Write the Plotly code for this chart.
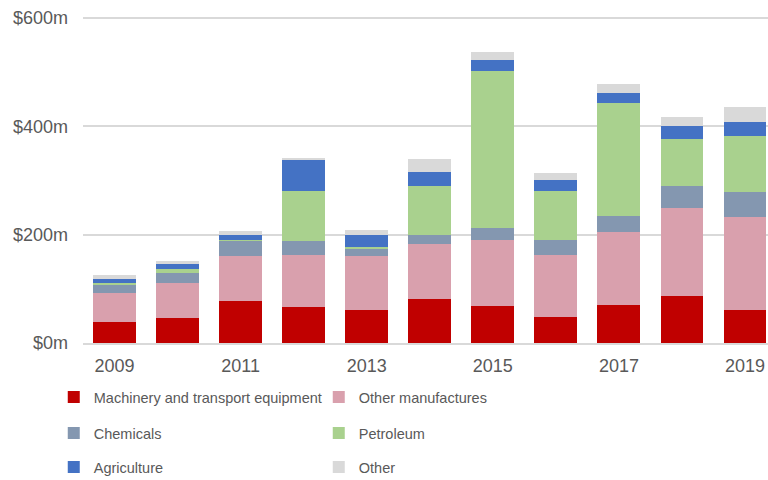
import plotly.graph_objects as go

years = ["2009", "2010", "2011", "2012", "2013", "2014", "2015", "2016", "2017", "2018", "2019"]
machinery = [38.2, 46.2, 78.3, 66.5, 60.9, 81.2, 69.0, 48.7, 69.6, 86.8, 60.9]
other_manufactures = [54.8, 64.0, 81.8, 96.7, 99.1, 102.3, 120.6, 113.7, 136.0, 163.2, 171.1]
chemicals = [14.8, 19.7, 29.0, 25.1, 12.9, 15.9, 22.2, 28.4, 28.8, 39.9, 46.2]
petroleum = [3.0, 6.1, 0.6, 93.0, 3.7, 91.2, 289.8, 90.5, 209.3, 87.5, 104.7]
agriculture = [8.1, 9.2, 10.3, 57.8, 23.4, 25.1, 20.3, 20.3, 17.7, 23.3, 25.8]
other = [6.1, 5.5, 6.8, 3.1, 9.2, 24.0, 14.8, 11.6, 17.4, 17.4, 26.4]

series = [
    ("Machinery and transport equipment", machinery, "#C00000", "legend"),
    ("Other manufactures", other_manufactures, "#D9A0AD", "legend"),
    ("Chemicals", chemicals, "#8497B0", "legend2"),
    ("Petroleum", petroleum, "#A9D18E", "legend2"),
    ("Agriculture", agriculture, "#4472C4", "legend3"),
    ("Other", other, "#D9D9D9", "legend3"),
]

y_ticks = [0, 200, 400, 600]
y_ticktext = ["$0m", "$200m", "$400m", "$600m"]
x_ticks = ["2009", "2011", "2013", "2015", "2017", "2019"]

fig = go.Figure()
for name, vals, color, lg in series:
    fig.add_trace(go.Bar(x=years, y=vals, name=name, marker_color=color,
                         marker_line_width=0, legend=lg))

legend_font = dict(family="Liberation Sans, Arial", size=14.5, color="#595959")
common_legend = dict(orientation="h", xref="container", yref="container", x=0.07,
                     xanchor="left", yanchor="middle", font=legend_font,
                     entrywidth=220, itemwidth=30, bgcolor="rgba(0,0,0,0)",
                     traceorder="normal", itemclick=False)

fig.update_layout(
    width=768, height=480,
    margin=dict(l=83, r=0, t=17, b=137, autoexpand=False),
    paper_bgcolor="white", plot_bgcolor="white",
    barmode="stack", bargap=0.32,
    font=dict(family="Liberation Sans, Arial", color="#595959", size=18),
    legend=dict(common_legend, y=1 - 397 / 480),
    legend2=dict(common_legend, y=1 - 433 / 480),
    legend3=dict(common_legend, y=1 - 467 / 480),
    xaxis=dict(type="category", range=[-0.5, 10.365], tickmode="array",
               tickvals=x_ticks, ticktext=x_ticks, showgrid=False,
               showline=True, linecolor="#D9D9D9", linewidth=1.5,
               ticks="", ticklabelstandoff=6, automargin=False,
               tickfont=dict(size=18, color="#595959")),
    yaxis=dict(range=[0, 602], tickvals=y_ticks, ticktext=y_ticktext,
               showgrid=True, gridcolor="#D9D9D9", gridwidth=1.5,
               zeroline=False, showline=False, ticks="", ticklabelstandoff=14,
               automargin=False,
               tickfont=dict(size=18, color="#595959")),
)

fig.write_html("out.html", config={"displayModeBar": False},
               post_script="document.body.style.margin='0';document.body.style.padding='0';")
